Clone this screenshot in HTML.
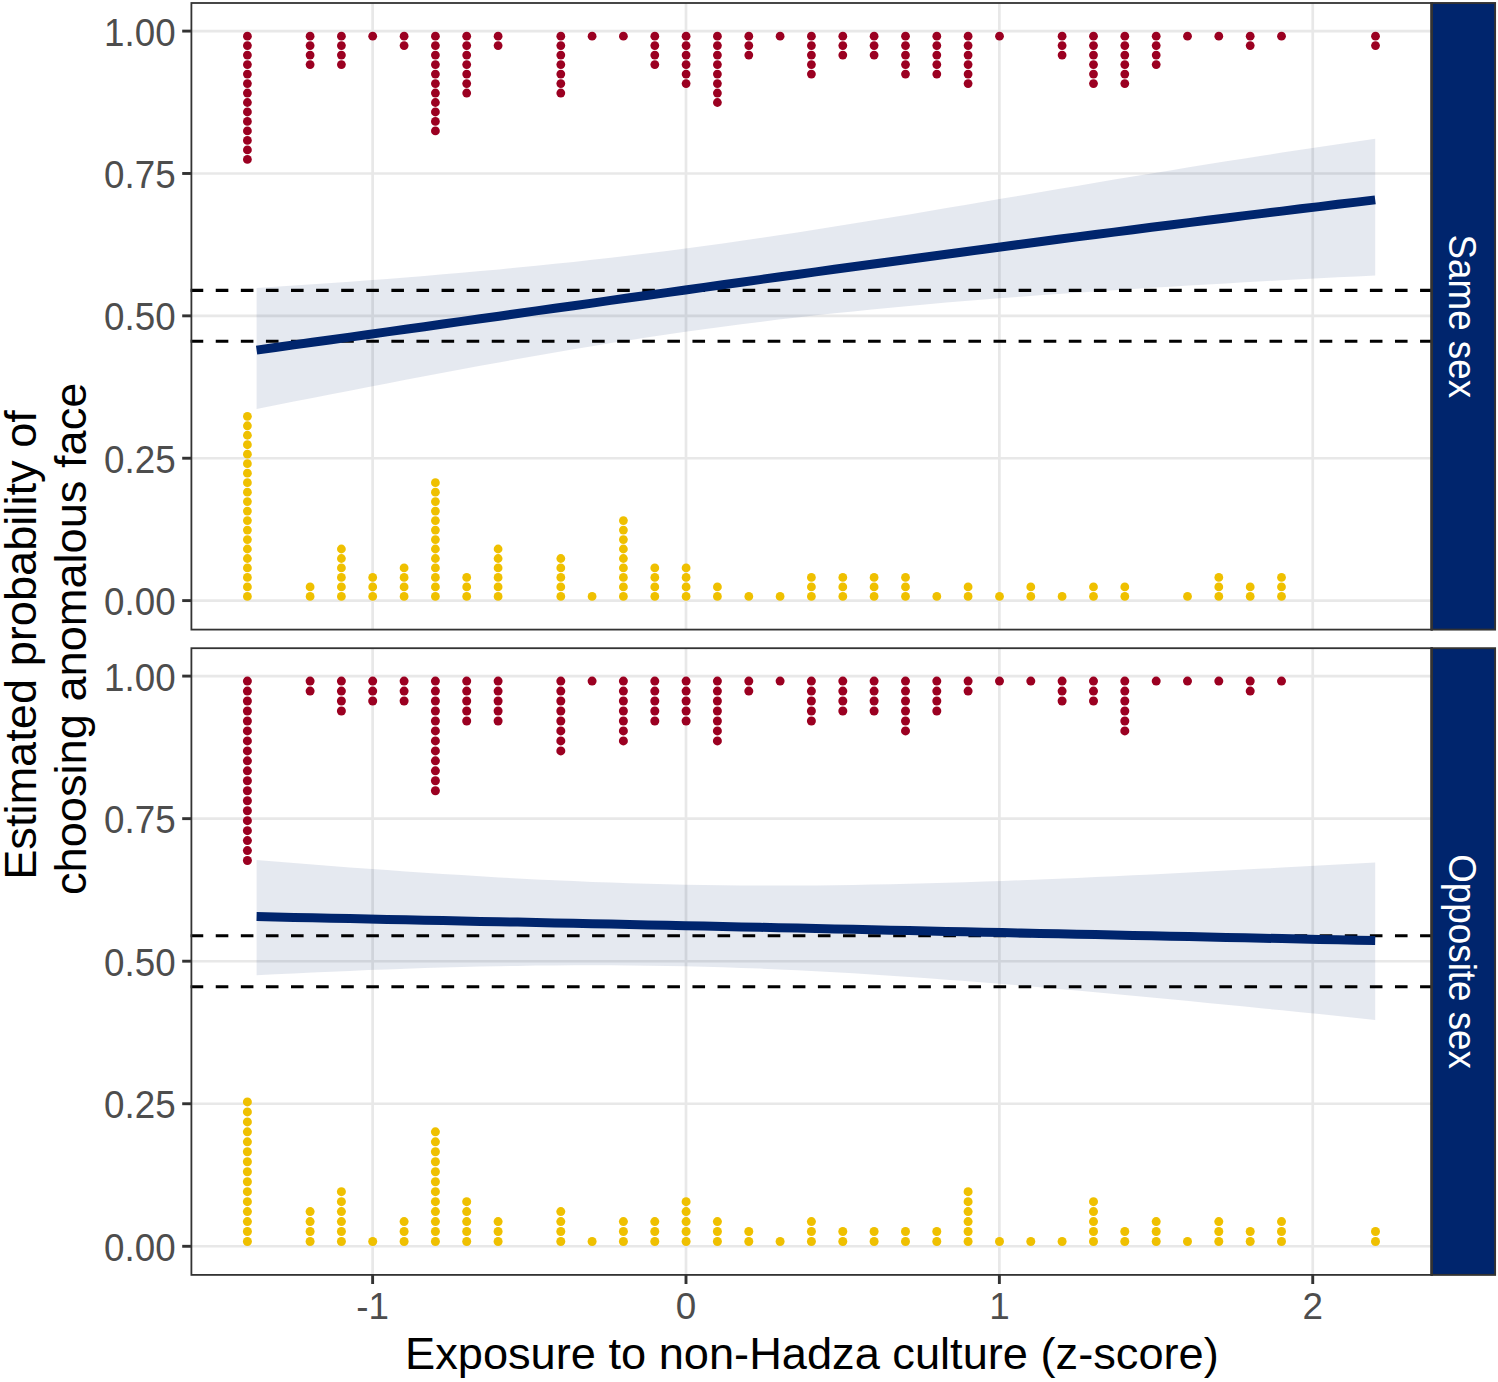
<!DOCTYPE html>
<html lang="en"><head><meta charset="utf-8"><title>Figure</title>
<style>html,body{margin:0;padding:0;background:#fff}body{width:1498px;height:1382px;overflow:hidden}</style></head>
<body>
<svg width="1498" height="1382" viewBox="0 0 1498 1382" style="display:block;font-family:'Liberation Sans',sans-serif">
<rect width="1498" height="1382" fill="#fff"/>
<g id="panel1">
<line x1="191.4" x2="1431.6" y1="600.60" y2="600.60" stroke="#E8E8E8" stroke-width="2.6"/>
<line x1="191.4" x2="1431.6" y1="458.23" y2="458.23" stroke="#E8E8E8" stroke-width="2.6"/>
<line x1="191.4" x2="1431.6" y1="315.85" y2="315.85" stroke="#E8E8E8" stroke-width="2.6"/>
<line x1="191.4" x2="1431.6" y1="173.48" y2="173.48" stroke="#E8E8E8" stroke-width="2.6"/>
<line x1="191.4" x2="1431.6" y1="31.10" y2="31.10" stroke="#E8E8E8" stroke-width="2.6"/>
<line x1="372.63" x2="372.63" y1="3.0" y2="629.6" stroke="#E8E8E8" stroke-width="2.7"/>
<line x1="686.00" x2="686.00" y1="3.0" y2="629.6" stroke="#E8E8E8" stroke-width="2.7"/>
<line x1="999.37" x2="999.37" y1="3.0" y2="629.6" stroke="#E8E8E8" stroke-width="2.7"/>
<line x1="1312.74" x2="1312.74" y1="3.0" y2="629.6" stroke="#E8E8E8" stroke-width="2.7"/>
<path d="M256.6,288.0 L275.2,286.8 L293.9,285.6 L312.5,284.3 L331.2,283.0 L349.8,281.7 L368.5,280.3 L387.1,278.9 L405.7,277.4 L424.4,275.9 L443.0,274.3 L461.7,272.7 L480.3,271.1 L499.0,269.4 L517.6,267.6 L536.2,265.7 L554.9,263.8 L573.5,261.9 L592.2,259.8 L610.8,257.7 L629.5,255.5 L648.1,253.2 L666.8,250.9 L685.4,248.4 L704.0,245.9 L722.7,243.4 L741.3,240.7 L760.0,238.0 L778.6,235.3 L797.3,232.4 L815.9,229.5 L834.5,226.6 L853.2,223.6 L871.8,220.6 L890.5,217.5 L909.1,214.4 L927.8,211.3 L946.4,208.1 L965.0,205.0 L983.7,201.8 L1002.3,198.6 L1021.0,195.4 L1039.6,192.3 L1058.3,189.1 L1076.9,185.9 L1095.5,182.8 L1114.2,179.6 L1132.8,176.5 L1151.5,173.4 L1170.1,170.4 L1188.8,167.3 L1207.4,164.3 L1226.1,161.3 L1244.7,158.4 L1263.3,155.5 L1282.0,152.6 L1300.6,149.8 L1319.3,147.0 L1337.9,144.2 L1356.6,141.5 L1375.2,138.8 L1375.2,275.4 L1356.6,276.4 L1337.9,277.3 L1319.3,278.3 L1300.6,279.3 L1282.0,280.3 L1263.3,281.3 L1244.7,282.3 L1226.1,283.4 L1207.4,284.5 L1188.8,285.6 L1170.1,286.7 L1151.5,287.8 L1132.8,289.0 L1114.2,290.2 L1095.5,291.4 L1076.9,292.7 L1058.3,294.0 L1039.6,295.3 L1021.0,296.7 L1002.3,298.1 L983.7,299.6 L965.0,301.1 L946.4,302.6 L927.8,304.3 L909.1,305.9 L890.5,307.7 L871.8,309.5 L853.2,311.4 L834.5,313.3 L815.9,315.3 L797.3,317.4 L778.6,319.6 L760.0,321.9 L741.3,324.2 L722.7,326.7 L704.0,329.2 L685.4,331.8 L666.8,334.5 L648.1,337.3 L629.5,340.2 L610.8,343.1 L592.2,346.2 L573.5,349.3 L554.9,352.5 L536.2,355.7 L517.6,359.0 L499.0,362.4 L480.3,365.8 L461.7,369.2 L443.0,372.7 L424.4,376.3 L405.7,379.8 L387.1,383.4 L368.5,387.0 L349.8,390.7 L331.2,394.3 L312.5,397.9 L293.9,401.6 L275.2,405.2 L256.6,408.9Z" fill="#00256D" fill-opacity="0.1"/>
<line x1="190.65" x2="1431.6" y1="341.31" y2="341.31" stroke="#000" stroke-width="3.05" stroke-dasharray="12.6 12.49"/>
<line x1="190.65" x2="1431.6" y1="290.39" y2="290.39" stroke="#000" stroke-width="3.05" stroke-dasharray="12.6 12.49"/>
<path d="M256.6,350.1 L275.2,347.5 L293.9,344.9 L312.5,342.3 L331.2,339.7 L349.8,337.1 L368.5,334.5 L387.1,331.9 L405.7,329.3 L424.4,326.7 L443.0,324.0 L461.7,321.4 L480.3,318.8 L499.0,316.2 L517.6,313.5 L536.2,310.9 L554.9,308.3 L573.5,305.7 L592.2,303.1 L610.8,300.4 L629.5,297.8 L648.1,295.2 L666.8,292.6 L685.4,290.0 L704.0,287.4 L722.7,284.8 L741.3,282.2 L760.0,279.6 L778.6,277.0 L797.3,274.5 L815.9,271.9 L834.5,269.3 L853.2,266.8 L871.8,264.2 L890.5,261.7 L909.1,259.2 L927.8,256.7 L946.4,254.2 L965.0,251.7 L983.7,249.2 L1002.3,246.7 L1021.0,244.2 L1039.6,241.8 L1058.3,239.3 L1076.9,236.9 L1095.5,234.5 L1114.2,232.1 L1132.8,229.7 L1151.5,227.3 L1170.1,225.0 L1188.8,222.6 L1207.4,220.3 L1226.1,218.0 L1244.7,215.6 L1263.3,213.4 L1282.0,211.1 L1300.6,208.8 L1319.3,206.6 L1337.9,204.3 L1356.6,202.1 L1375.2,199.9" fill="none" stroke="#00256D" stroke-width="9"/>
<g fill="#9B0021">
<circle cx="247.4" cy="36.14" r="4.4"/>
<circle cx="247.4" cy="45.62" r="4.4"/>
<circle cx="247.4" cy="55.10" r="4.4"/>
<circle cx="247.4" cy="64.58" r="4.4"/>
<circle cx="247.4" cy="74.06" r="4.4"/>
<circle cx="247.4" cy="83.54" r="4.4"/>
<circle cx="247.4" cy="93.02" r="4.4"/>
<circle cx="247.4" cy="102.50" r="4.4"/>
<circle cx="247.4" cy="111.98" r="4.4"/>
<circle cx="247.4" cy="121.46" r="4.4"/>
<circle cx="247.4" cy="130.94" r="4.4"/>
<circle cx="247.4" cy="140.42" r="4.4"/>
<circle cx="247.4" cy="149.90" r="4.4"/>
<circle cx="247.4" cy="159.38" r="4.4"/>
<circle cx="310.1" cy="36.14" r="4.4"/>
<circle cx="310.1" cy="45.62" r="4.4"/>
<circle cx="310.1" cy="55.10" r="4.4"/>
<circle cx="310.1" cy="64.58" r="4.4"/>
<circle cx="341.4" cy="36.14" r="4.4"/>
<circle cx="341.4" cy="45.62" r="4.4"/>
<circle cx="341.4" cy="55.10" r="4.4"/>
<circle cx="341.4" cy="64.58" r="4.4"/>
<circle cx="372.7" cy="36.14" r="4.4"/>
<circle cx="404.1" cy="36.14" r="4.4"/>
<circle cx="404.1" cy="45.62" r="4.4"/>
<circle cx="435.4" cy="36.14" r="4.4"/>
<circle cx="435.4" cy="45.62" r="4.4"/>
<circle cx="435.4" cy="55.10" r="4.4"/>
<circle cx="435.4" cy="64.58" r="4.4"/>
<circle cx="435.4" cy="74.06" r="4.4"/>
<circle cx="435.4" cy="83.54" r="4.4"/>
<circle cx="435.4" cy="93.02" r="4.4"/>
<circle cx="435.4" cy="102.50" r="4.4"/>
<circle cx="435.4" cy="111.98" r="4.4"/>
<circle cx="435.4" cy="121.46" r="4.4"/>
<circle cx="435.4" cy="130.94" r="4.4"/>
<circle cx="466.7" cy="36.14" r="4.4"/>
<circle cx="466.7" cy="45.62" r="4.4"/>
<circle cx="466.7" cy="55.10" r="4.4"/>
<circle cx="466.7" cy="64.58" r="4.4"/>
<circle cx="466.7" cy="74.06" r="4.4"/>
<circle cx="466.7" cy="83.54" r="4.4"/>
<circle cx="466.7" cy="93.02" r="4.4"/>
<circle cx="498.1" cy="36.14" r="4.4"/>
<circle cx="498.1" cy="45.62" r="4.4"/>
<circle cx="560.8" cy="36.14" r="4.4"/>
<circle cx="560.8" cy="45.62" r="4.4"/>
<circle cx="560.8" cy="55.10" r="4.4"/>
<circle cx="560.8" cy="64.58" r="4.4"/>
<circle cx="560.8" cy="74.06" r="4.4"/>
<circle cx="560.8" cy="83.54" r="4.4"/>
<circle cx="560.8" cy="93.02" r="4.4"/>
<circle cx="592.1" cy="36.14" r="4.4"/>
<circle cx="623.4" cy="36.14" r="4.4"/>
<circle cx="654.8" cy="36.14" r="4.4"/>
<circle cx="654.8" cy="45.62" r="4.4"/>
<circle cx="654.8" cy="55.10" r="4.4"/>
<circle cx="654.8" cy="64.58" r="4.4"/>
<circle cx="686.1" cy="36.14" r="4.4"/>
<circle cx="686.1" cy="45.62" r="4.4"/>
<circle cx="686.1" cy="55.10" r="4.4"/>
<circle cx="686.1" cy="64.58" r="4.4"/>
<circle cx="686.1" cy="74.06" r="4.4"/>
<circle cx="686.1" cy="83.54" r="4.4"/>
<circle cx="717.4" cy="36.14" r="4.4"/>
<circle cx="717.4" cy="45.62" r="4.4"/>
<circle cx="717.4" cy="55.10" r="4.4"/>
<circle cx="717.4" cy="64.58" r="4.4"/>
<circle cx="717.4" cy="74.06" r="4.4"/>
<circle cx="717.4" cy="83.54" r="4.4"/>
<circle cx="717.4" cy="93.02" r="4.4"/>
<circle cx="717.4" cy="102.50" r="4.4"/>
<circle cx="748.8" cy="36.14" r="4.4"/>
<circle cx="748.8" cy="45.62" r="4.4"/>
<circle cx="748.8" cy="55.10" r="4.4"/>
<circle cx="780.1" cy="36.14" r="4.4"/>
<circle cx="811.4" cy="36.14" r="4.4"/>
<circle cx="811.4" cy="45.62" r="4.4"/>
<circle cx="811.4" cy="55.10" r="4.4"/>
<circle cx="811.4" cy="64.58" r="4.4"/>
<circle cx="811.4" cy="74.06" r="4.4"/>
<circle cx="842.8" cy="36.14" r="4.4"/>
<circle cx="842.8" cy="45.62" r="4.4"/>
<circle cx="842.8" cy="55.10" r="4.4"/>
<circle cx="874.1" cy="36.14" r="4.4"/>
<circle cx="874.1" cy="45.62" r="4.4"/>
<circle cx="874.1" cy="55.10" r="4.4"/>
<circle cx="905.5" cy="36.14" r="4.4"/>
<circle cx="905.5" cy="45.62" r="4.4"/>
<circle cx="905.5" cy="55.10" r="4.4"/>
<circle cx="905.5" cy="64.58" r="4.4"/>
<circle cx="905.5" cy="74.06" r="4.4"/>
<circle cx="936.8" cy="36.14" r="4.4"/>
<circle cx="936.8" cy="45.62" r="4.4"/>
<circle cx="936.8" cy="55.10" r="4.4"/>
<circle cx="936.8" cy="64.58" r="4.4"/>
<circle cx="936.8" cy="74.06" r="4.4"/>
<circle cx="968.1" cy="36.14" r="4.4"/>
<circle cx="968.1" cy="45.62" r="4.4"/>
<circle cx="968.1" cy="55.10" r="4.4"/>
<circle cx="968.1" cy="64.58" r="4.4"/>
<circle cx="968.1" cy="74.06" r="4.4"/>
<circle cx="968.1" cy="83.54" r="4.4"/>
<circle cx="999.5" cy="36.14" r="4.4"/>
<circle cx="1062.1" cy="36.14" r="4.4"/>
<circle cx="1062.1" cy="45.62" r="4.4"/>
<circle cx="1062.1" cy="55.10" r="4.4"/>
<circle cx="1093.5" cy="36.14" r="4.4"/>
<circle cx="1093.5" cy="45.62" r="4.4"/>
<circle cx="1093.5" cy="55.10" r="4.4"/>
<circle cx="1093.5" cy="64.58" r="4.4"/>
<circle cx="1093.5" cy="74.06" r="4.4"/>
<circle cx="1093.5" cy="83.54" r="4.4"/>
<circle cx="1124.8" cy="36.14" r="4.4"/>
<circle cx="1124.8" cy="45.62" r="4.4"/>
<circle cx="1124.8" cy="55.10" r="4.4"/>
<circle cx="1124.8" cy="64.58" r="4.4"/>
<circle cx="1124.8" cy="74.06" r="4.4"/>
<circle cx="1124.8" cy="83.54" r="4.4"/>
<circle cx="1156.2" cy="36.14" r="4.4"/>
<circle cx="1156.2" cy="45.62" r="4.4"/>
<circle cx="1156.2" cy="55.10" r="4.4"/>
<circle cx="1156.2" cy="64.58" r="4.4"/>
<circle cx="1187.5" cy="36.14" r="4.4"/>
<circle cx="1218.8" cy="36.14" r="4.4"/>
<circle cx="1250.2" cy="36.14" r="4.4"/>
<circle cx="1250.2" cy="45.62" r="4.4"/>
<circle cx="1281.5" cy="36.14" r="4.4"/>
<circle cx="1375.5" cy="36.14" r="4.4"/>
<circle cx="1375.5" cy="45.62" r="4.4"/>
</g>
<g fill="#EFC000">
<circle cx="247.4" cy="596.41" r="4.4"/>
<circle cx="247.4" cy="586.93" r="4.4"/>
<circle cx="247.4" cy="577.45" r="4.4"/>
<circle cx="247.4" cy="567.97" r="4.4"/>
<circle cx="247.4" cy="558.49" r="4.4"/>
<circle cx="247.4" cy="549.01" r="4.4"/>
<circle cx="247.4" cy="539.53" r="4.4"/>
<circle cx="247.4" cy="530.05" r="4.4"/>
<circle cx="247.4" cy="520.57" r="4.4"/>
<circle cx="247.4" cy="511.09" r="4.4"/>
<circle cx="247.4" cy="501.61" r="4.4"/>
<circle cx="247.4" cy="492.13" r="4.4"/>
<circle cx="247.4" cy="482.65" r="4.4"/>
<circle cx="247.4" cy="473.17" r="4.4"/>
<circle cx="247.4" cy="463.69" r="4.4"/>
<circle cx="247.4" cy="454.21" r="4.4"/>
<circle cx="247.4" cy="444.73" r="4.4"/>
<circle cx="247.4" cy="435.25" r="4.4"/>
<circle cx="247.4" cy="425.77" r="4.4"/>
<circle cx="247.4" cy="416.29" r="4.4"/>
<circle cx="310.1" cy="596.41" r="4.4"/>
<circle cx="310.1" cy="586.93" r="4.4"/>
<circle cx="341.4" cy="596.41" r="4.4"/>
<circle cx="341.4" cy="586.93" r="4.4"/>
<circle cx="341.4" cy="577.45" r="4.4"/>
<circle cx="341.4" cy="567.97" r="4.4"/>
<circle cx="341.4" cy="558.49" r="4.4"/>
<circle cx="341.4" cy="549.01" r="4.4"/>
<circle cx="372.7" cy="596.41" r="4.4"/>
<circle cx="372.7" cy="586.93" r="4.4"/>
<circle cx="372.7" cy="577.45" r="4.4"/>
<circle cx="404.1" cy="596.41" r="4.4"/>
<circle cx="404.1" cy="586.93" r="4.4"/>
<circle cx="404.1" cy="577.45" r="4.4"/>
<circle cx="404.1" cy="567.97" r="4.4"/>
<circle cx="435.4" cy="596.41" r="4.4"/>
<circle cx="435.4" cy="586.93" r="4.4"/>
<circle cx="435.4" cy="577.45" r="4.4"/>
<circle cx="435.4" cy="567.97" r="4.4"/>
<circle cx="435.4" cy="558.49" r="4.4"/>
<circle cx="435.4" cy="549.01" r="4.4"/>
<circle cx="435.4" cy="539.53" r="4.4"/>
<circle cx="435.4" cy="530.05" r="4.4"/>
<circle cx="435.4" cy="520.57" r="4.4"/>
<circle cx="435.4" cy="511.09" r="4.4"/>
<circle cx="435.4" cy="501.61" r="4.4"/>
<circle cx="435.4" cy="492.13" r="4.4"/>
<circle cx="435.4" cy="482.65" r="4.4"/>
<circle cx="466.7" cy="596.41" r="4.4"/>
<circle cx="466.7" cy="586.93" r="4.4"/>
<circle cx="466.7" cy="577.45" r="4.4"/>
<circle cx="498.1" cy="596.41" r="4.4"/>
<circle cx="498.1" cy="586.93" r="4.4"/>
<circle cx="498.1" cy="577.45" r="4.4"/>
<circle cx="498.1" cy="567.97" r="4.4"/>
<circle cx="498.1" cy="558.49" r="4.4"/>
<circle cx="498.1" cy="549.01" r="4.4"/>
<circle cx="560.8" cy="596.41" r="4.4"/>
<circle cx="560.8" cy="586.93" r="4.4"/>
<circle cx="560.8" cy="577.45" r="4.4"/>
<circle cx="560.8" cy="567.97" r="4.4"/>
<circle cx="560.8" cy="558.49" r="4.4"/>
<circle cx="592.1" cy="596.41" r="4.4"/>
<circle cx="623.4" cy="596.41" r="4.4"/>
<circle cx="623.4" cy="586.93" r="4.4"/>
<circle cx="623.4" cy="577.45" r="4.4"/>
<circle cx="623.4" cy="567.97" r="4.4"/>
<circle cx="623.4" cy="558.49" r="4.4"/>
<circle cx="623.4" cy="549.01" r="4.4"/>
<circle cx="623.4" cy="539.53" r="4.4"/>
<circle cx="623.4" cy="530.05" r="4.4"/>
<circle cx="623.4" cy="520.57" r="4.4"/>
<circle cx="654.8" cy="596.41" r="4.4"/>
<circle cx="654.8" cy="586.93" r="4.4"/>
<circle cx="654.8" cy="577.45" r="4.4"/>
<circle cx="654.8" cy="567.97" r="4.4"/>
<circle cx="686.1" cy="596.41" r="4.4"/>
<circle cx="686.1" cy="586.93" r="4.4"/>
<circle cx="686.1" cy="577.45" r="4.4"/>
<circle cx="686.1" cy="567.97" r="4.4"/>
<circle cx="717.4" cy="596.41" r="4.4"/>
<circle cx="717.4" cy="586.93" r="4.4"/>
<circle cx="748.8" cy="596.41" r="4.4"/>
<circle cx="780.1" cy="596.41" r="4.4"/>
<circle cx="811.4" cy="596.41" r="4.4"/>
<circle cx="811.4" cy="586.93" r="4.4"/>
<circle cx="811.4" cy="577.45" r="4.4"/>
<circle cx="842.8" cy="596.41" r="4.4"/>
<circle cx="842.8" cy="586.93" r="4.4"/>
<circle cx="842.8" cy="577.45" r="4.4"/>
<circle cx="874.1" cy="596.41" r="4.4"/>
<circle cx="874.1" cy="586.93" r="4.4"/>
<circle cx="874.1" cy="577.45" r="4.4"/>
<circle cx="905.5" cy="596.41" r="4.4"/>
<circle cx="905.5" cy="586.93" r="4.4"/>
<circle cx="905.5" cy="577.45" r="4.4"/>
<circle cx="936.8" cy="596.41" r="4.4"/>
<circle cx="968.1" cy="596.41" r="4.4"/>
<circle cx="968.1" cy="586.93" r="4.4"/>
<circle cx="999.5" cy="596.41" r="4.4"/>
<circle cx="1030.8" cy="596.41" r="4.4"/>
<circle cx="1030.8" cy="586.93" r="4.4"/>
<circle cx="1062.1" cy="596.41" r="4.4"/>
<circle cx="1093.5" cy="596.41" r="4.4"/>
<circle cx="1093.5" cy="586.93" r="4.4"/>
<circle cx="1124.8" cy="596.41" r="4.4"/>
<circle cx="1124.8" cy="586.93" r="4.4"/>
<circle cx="1187.5" cy="596.41" r="4.4"/>
<circle cx="1218.8" cy="596.41" r="4.4"/>
<circle cx="1218.8" cy="586.93" r="4.4"/>
<circle cx="1218.8" cy="577.45" r="4.4"/>
<circle cx="1250.2" cy="596.41" r="4.4"/>
<circle cx="1250.2" cy="586.93" r="4.4"/>
<circle cx="1281.5" cy="596.41" r="4.4"/>
<circle cx="1281.5" cy="586.93" r="4.4"/>
<circle cx="1281.5" cy="577.45" r="4.4"/>
</g>
<rect x="1432.0" y="3.0" width="63.1" height="626.6" fill="#00256D" stroke="#333333" stroke-width="1.9"/>
<rect x="191.4" y="3.0" width="1240.2" height="626.6" fill="none" stroke="#333333" stroke-width="1.8"/>
<line x1="1431.6" x2="1431.6" y1="2.05" y2="630.5500000000001" stroke="#333333" stroke-width="2.7"/>
<text transform="translate(1449.0,316.3) rotate(90) scale(1,1.07)" text-anchor="middle" font-size="36.8" fill="#fff">Same sex</text>
<line x1="182.20000000000002" x2="191.4" y1="600.60" y2="600.60" stroke="#333333" stroke-width="2.9"/>
<text transform="translate(175.7,615.05) scale(1,1.035)" text-anchor="end" font-size="36.8" fill="#4D4D4D">0.00</text>
<line x1="182.20000000000002" x2="191.4" y1="458.23" y2="458.23" stroke="#333333" stroke-width="2.9"/>
<text transform="translate(175.7,472.68) scale(1,1.035)" text-anchor="end" font-size="36.8" fill="#4D4D4D">0.25</text>
<line x1="182.20000000000002" x2="191.4" y1="315.85" y2="315.85" stroke="#333333" stroke-width="2.9"/>
<text transform="translate(175.7,330.30) scale(1,1.035)" text-anchor="end" font-size="36.8" fill="#4D4D4D">0.50</text>
<line x1="182.20000000000002" x2="191.4" y1="173.48" y2="173.48" stroke="#333333" stroke-width="2.9"/>
<text transform="translate(175.7,187.93) scale(1,1.035)" text-anchor="end" font-size="36.8" fill="#4D4D4D">0.75</text>
<line x1="182.20000000000002" x2="191.4" y1="31.10" y2="31.10" stroke="#333333" stroke-width="2.9"/>
<text transform="translate(175.7,45.55) scale(1,1.035)" text-anchor="end" font-size="36.8" fill="#4D4D4D">1.00</text>
</g>
<g id="panel2">
<line x1="191.4" x2="1431.6" y1="1246.30" y2="1246.30" stroke="#E8E8E8" stroke-width="2.6"/>
<line x1="191.4" x2="1431.6" y1="1103.75" y2="1103.75" stroke="#E8E8E8" stroke-width="2.6"/>
<line x1="191.4" x2="1431.6" y1="961.20" y2="961.20" stroke="#E8E8E8" stroke-width="2.6"/>
<line x1="191.4" x2="1431.6" y1="818.65" y2="818.65" stroke="#E8E8E8" stroke-width="2.6"/>
<line x1="191.4" x2="1431.6" y1="676.10" y2="676.10" stroke="#E8E8E8" stroke-width="2.6"/>
<line x1="372.63" x2="372.63" y1="648.2" y2="1274.9" stroke="#E8E8E8" stroke-width="2.7"/>
<line x1="686.00" x2="686.00" y1="648.2" y2="1274.9" stroke="#E8E8E8" stroke-width="2.7"/>
<line x1="999.37" x2="999.37" y1="648.2" y2="1274.9" stroke="#E8E8E8" stroke-width="2.7"/>
<line x1="1312.74" x2="1312.74" y1="648.2" y2="1274.9" stroke="#E8E8E8" stroke-width="2.7"/>
<path d="M256.6,860.0 L275.2,861.5 L293.9,863.0 L312.5,864.5 L331.2,865.9 L349.8,867.4 L368.5,868.7 L387.1,870.1 L405.7,871.4 L424.4,872.7 L443.0,873.9 L461.7,875.1 L480.3,876.3 L499.0,877.4 L517.6,878.4 L536.2,879.4 L554.9,880.3 L573.5,881.1 L592.2,881.9 L610.8,882.6 L629.5,883.3 L648.1,883.8 L666.8,884.3 L685.4,884.7 L704.0,885.0 L722.7,885.3 L741.3,885.4 L760.0,885.5 L778.6,885.5 L797.3,885.5 L815.9,885.4 L834.5,885.2 L853.2,884.9 L871.8,884.6 L890.5,884.2 L909.1,883.8 L927.8,883.3 L946.4,882.7 L965.0,882.2 L983.7,881.5 L1002.3,880.9 L1021.0,880.2 L1039.6,879.4 L1058.3,878.7 L1076.9,877.9 L1095.5,877.0 L1114.2,876.2 L1132.8,875.3 L1151.5,874.4 L1170.1,873.5 L1188.8,872.5 L1207.4,871.6 L1226.1,870.6 L1244.7,869.6 L1263.3,868.6 L1282.0,867.6 L1300.6,866.6 L1319.3,865.5 L1337.9,864.5 L1356.6,863.4 L1375.2,862.4 L1375.2,1019.9 L1356.6,1018.0 L1337.9,1016.1 L1319.3,1014.1 L1300.6,1012.2 L1282.0,1010.3 L1263.3,1008.5 L1244.7,1006.6 L1226.1,1004.7 L1207.4,1002.9 L1188.8,1001.1 L1170.1,999.3 L1151.5,997.5 L1132.8,995.7 L1114.2,993.9 L1095.5,992.2 L1076.9,990.5 L1058.3,988.9 L1039.6,987.2 L1021.0,985.6 L1002.3,984.1 L983.7,982.6 L965.0,981.1 L946.4,979.7 L927.8,978.3 L909.1,977.0 L890.5,975.7 L871.8,974.5 L853.2,973.3 L834.5,972.2 L815.9,971.2 L797.3,970.3 L778.6,969.4 L760.0,968.6 L741.3,967.9 L722.7,967.3 L704.0,966.8 L685.4,966.3 L666.8,966.0 L648.1,965.7 L629.5,965.5 L610.8,965.3 L592.2,965.3 L573.5,965.3 L554.9,965.4 L536.2,965.6 L517.6,965.9 L499.0,966.2 L480.3,966.6 L461.7,967.1 L443.0,967.6 L424.4,968.1 L405.7,968.7 L387.1,969.4 L368.5,970.1 L349.8,970.9 L331.2,971.7 L312.5,972.5 L293.9,973.4 L275.2,974.3 L256.6,975.2Z" fill="#00256D" fill-opacity="0.1"/>
<line x1="190.65" x2="1431.6" y1="986.69" y2="986.69" stroke="#000" stroke-width="3.05" stroke-dasharray="12.6 12.49"/>
<line x1="190.65" x2="1431.6" y1="935.71" y2="935.71" stroke="#000" stroke-width="3.05" stroke-dasharray="12.6 12.49"/>
<path d="M256.6,916.6 L275.2,917.0 L293.9,917.4 L312.5,917.8 L331.2,918.2 L349.8,918.6 L368.5,919.0 L387.1,919.4 L405.7,919.8 L424.4,920.2 L443.0,920.6 L461.7,921.0 L480.3,921.4 L499.0,921.7 L517.6,922.1 L536.2,922.5 L554.9,922.9 L573.5,923.3 L592.2,923.7 L610.8,924.1 L629.5,924.5 L648.1,924.9 L666.8,925.3 L685.4,925.7 L704.0,926.1 L722.7,926.5 L741.3,926.9 L760.0,927.3 L778.6,927.7 L797.3,928.1 L815.9,928.5 L834.5,928.9 L853.2,929.3 L871.8,929.8 L890.5,930.2 L909.1,930.6 L927.8,931.0 L946.4,931.4 L965.0,931.8 L983.7,932.2 L1002.3,932.6 L1021.0,933.0 L1039.6,933.4 L1058.3,933.8 L1076.9,934.2 L1095.5,934.6 L1114.2,935.0 L1132.8,935.4 L1151.5,935.8 L1170.1,936.2 L1188.8,936.6 L1207.4,937.0 L1226.1,937.4 L1244.7,937.8 L1263.3,938.2 L1282.0,938.6 L1300.6,939.0 L1319.3,939.4 L1337.9,939.8 L1356.6,940.2 L1375.2,940.6" fill="none" stroke="#00256D" stroke-width="9"/>
<g fill="#9B0021">
<circle cx="247.4" cy="681.09" r="4.5"/>
<circle cx="247.4" cy="691.06" r="4.5"/>
<circle cx="247.4" cy="701.03" r="4.5"/>
<circle cx="247.4" cy="711.00" r="4.5"/>
<circle cx="247.4" cy="720.97" r="4.5"/>
<circle cx="247.4" cy="730.94" r="4.5"/>
<circle cx="247.4" cy="740.91" r="4.5"/>
<circle cx="247.4" cy="750.88" r="4.5"/>
<circle cx="247.4" cy="760.85" r="4.5"/>
<circle cx="247.4" cy="770.82" r="4.5"/>
<circle cx="247.4" cy="780.79" r="4.5"/>
<circle cx="247.4" cy="790.75" r="4.5"/>
<circle cx="247.4" cy="800.73" r="4.5"/>
<circle cx="247.4" cy="810.70" r="4.5"/>
<circle cx="247.4" cy="820.67" r="4.5"/>
<circle cx="247.4" cy="830.63" r="4.5"/>
<circle cx="247.4" cy="840.61" r="4.5"/>
<circle cx="247.4" cy="850.58" r="4.5"/>
<circle cx="247.4" cy="860.55" r="4.5"/>
<circle cx="310.1" cy="681.09" r="4.5"/>
<circle cx="310.1" cy="691.06" r="4.5"/>
<circle cx="341.4" cy="681.09" r="4.5"/>
<circle cx="341.4" cy="691.06" r="4.5"/>
<circle cx="341.4" cy="701.03" r="4.5"/>
<circle cx="341.4" cy="711.00" r="4.5"/>
<circle cx="372.7" cy="681.09" r="4.5"/>
<circle cx="372.7" cy="691.06" r="4.5"/>
<circle cx="372.7" cy="701.03" r="4.5"/>
<circle cx="404.1" cy="681.09" r="4.5"/>
<circle cx="404.1" cy="691.06" r="4.5"/>
<circle cx="404.1" cy="701.03" r="4.5"/>
<circle cx="435.4" cy="681.09" r="4.5"/>
<circle cx="435.4" cy="691.06" r="4.5"/>
<circle cx="435.4" cy="701.03" r="4.5"/>
<circle cx="435.4" cy="711.00" r="4.5"/>
<circle cx="435.4" cy="720.97" r="4.5"/>
<circle cx="435.4" cy="730.94" r="4.5"/>
<circle cx="435.4" cy="740.91" r="4.5"/>
<circle cx="435.4" cy="750.88" r="4.5"/>
<circle cx="435.4" cy="760.85" r="4.5"/>
<circle cx="435.4" cy="770.82" r="4.5"/>
<circle cx="435.4" cy="780.79" r="4.5"/>
<circle cx="435.4" cy="790.75" r="4.5"/>
<circle cx="466.7" cy="681.09" r="4.5"/>
<circle cx="466.7" cy="691.06" r="4.5"/>
<circle cx="466.7" cy="701.03" r="4.5"/>
<circle cx="466.7" cy="711.00" r="4.5"/>
<circle cx="466.7" cy="720.97" r="4.5"/>
<circle cx="498.1" cy="681.09" r="4.5"/>
<circle cx="498.1" cy="691.06" r="4.5"/>
<circle cx="498.1" cy="701.03" r="4.5"/>
<circle cx="498.1" cy="711.00" r="4.5"/>
<circle cx="498.1" cy="720.97" r="4.5"/>
<circle cx="560.8" cy="681.09" r="4.5"/>
<circle cx="560.8" cy="691.06" r="4.5"/>
<circle cx="560.8" cy="701.03" r="4.5"/>
<circle cx="560.8" cy="711.00" r="4.5"/>
<circle cx="560.8" cy="720.97" r="4.5"/>
<circle cx="560.8" cy="730.94" r="4.5"/>
<circle cx="560.8" cy="740.91" r="4.5"/>
<circle cx="560.8" cy="750.88" r="4.5"/>
<circle cx="592.1" cy="681.09" r="4.5"/>
<circle cx="623.4" cy="681.09" r="4.5"/>
<circle cx="623.4" cy="691.06" r="4.5"/>
<circle cx="623.4" cy="701.03" r="4.5"/>
<circle cx="623.4" cy="711.00" r="4.5"/>
<circle cx="623.4" cy="720.97" r="4.5"/>
<circle cx="623.4" cy="730.94" r="4.5"/>
<circle cx="623.4" cy="740.91" r="4.5"/>
<circle cx="654.8" cy="681.09" r="4.5"/>
<circle cx="654.8" cy="691.06" r="4.5"/>
<circle cx="654.8" cy="701.03" r="4.5"/>
<circle cx="654.8" cy="711.00" r="4.5"/>
<circle cx="654.8" cy="720.97" r="4.5"/>
<circle cx="686.1" cy="681.09" r="4.5"/>
<circle cx="686.1" cy="691.06" r="4.5"/>
<circle cx="686.1" cy="701.03" r="4.5"/>
<circle cx="686.1" cy="711.00" r="4.5"/>
<circle cx="686.1" cy="720.97" r="4.5"/>
<circle cx="717.4" cy="681.09" r="4.5"/>
<circle cx="717.4" cy="691.06" r="4.5"/>
<circle cx="717.4" cy="701.03" r="4.5"/>
<circle cx="717.4" cy="711.00" r="4.5"/>
<circle cx="717.4" cy="720.97" r="4.5"/>
<circle cx="717.4" cy="730.94" r="4.5"/>
<circle cx="717.4" cy="740.91" r="4.5"/>
<circle cx="748.8" cy="681.09" r="4.5"/>
<circle cx="748.8" cy="691.06" r="4.5"/>
<circle cx="780.1" cy="681.09" r="4.5"/>
<circle cx="811.4" cy="681.09" r="4.5"/>
<circle cx="811.4" cy="691.06" r="4.5"/>
<circle cx="811.4" cy="701.03" r="4.5"/>
<circle cx="811.4" cy="711.00" r="4.5"/>
<circle cx="811.4" cy="720.97" r="4.5"/>
<circle cx="842.8" cy="681.09" r="4.5"/>
<circle cx="842.8" cy="691.06" r="4.5"/>
<circle cx="842.8" cy="701.03" r="4.5"/>
<circle cx="842.8" cy="711.00" r="4.5"/>
<circle cx="874.1" cy="681.09" r="4.5"/>
<circle cx="874.1" cy="691.06" r="4.5"/>
<circle cx="874.1" cy="701.03" r="4.5"/>
<circle cx="874.1" cy="711.00" r="4.5"/>
<circle cx="905.5" cy="681.09" r="4.5"/>
<circle cx="905.5" cy="691.06" r="4.5"/>
<circle cx="905.5" cy="701.03" r="4.5"/>
<circle cx="905.5" cy="711.00" r="4.5"/>
<circle cx="905.5" cy="720.97" r="4.5"/>
<circle cx="905.5" cy="730.94" r="4.5"/>
<circle cx="936.8" cy="681.09" r="4.5"/>
<circle cx="936.8" cy="691.06" r="4.5"/>
<circle cx="936.8" cy="701.03" r="4.5"/>
<circle cx="936.8" cy="711.00" r="4.5"/>
<circle cx="968.1" cy="681.09" r="4.5"/>
<circle cx="968.1" cy="691.06" r="4.5"/>
<circle cx="999.5" cy="681.09" r="4.5"/>
<circle cx="1030.8" cy="681.09" r="4.5"/>
<circle cx="1062.1" cy="681.09" r="4.5"/>
<circle cx="1062.1" cy="691.06" r="4.5"/>
<circle cx="1062.1" cy="701.03" r="4.5"/>
<circle cx="1093.5" cy="681.09" r="4.5"/>
<circle cx="1093.5" cy="691.06" r="4.5"/>
<circle cx="1093.5" cy="701.03" r="4.5"/>
<circle cx="1124.8" cy="681.09" r="4.5"/>
<circle cx="1124.8" cy="691.06" r="4.5"/>
<circle cx="1124.8" cy="701.03" r="4.5"/>
<circle cx="1124.8" cy="711.00" r="4.5"/>
<circle cx="1124.8" cy="720.97" r="4.5"/>
<circle cx="1124.8" cy="730.94" r="4.5"/>
<circle cx="1156.2" cy="681.09" r="4.5"/>
<circle cx="1187.5" cy="681.09" r="4.5"/>
<circle cx="1218.8" cy="681.09" r="4.5"/>
<circle cx="1250.2" cy="681.09" r="4.5"/>
<circle cx="1250.2" cy="691.06" r="4.5"/>
<circle cx="1281.5" cy="681.09" r="4.5"/>
</g>
<g fill="#EFC000">
<circle cx="247.4" cy="1241.52" r="4.5"/>
<circle cx="247.4" cy="1231.55" r="4.5"/>
<circle cx="247.4" cy="1221.58" r="4.5"/>
<circle cx="247.4" cy="1211.61" r="4.5"/>
<circle cx="247.4" cy="1201.63" r="4.5"/>
<circle cx="247.4" cy="1191.67" r="4.5"/>
<circle cx="247.4" cy="1181.70" r="4.5"/>
<circle cx="247.4" cy="1171.73" r="4.5"/>
<circle cx="247.4" cy="1161.76" r="4.5"/>
<circle cx="247.4" cy="1151.79" r="4.5"/>
<circle cx="247.4" cy="1141.82" r="4.5"/>
<circle cx="247.4" cy="1131.85" r="4.5"/>
<circle cx="247.4" cy="1121.88" r="4.5"/>
<circle cx="247.4" cy="1111.91" r="4.5"/>
<circle cx="247.4" cy="1101.94" r="4.5"/>
<circle cx="310.1" cy="1241.52" r="4.5"/>
<circle cx="310.1" cy="1231.55" r="4.5"/>
<circle cx="310.1" cy="1221.58" r="4.5"/>
<circle cx="310.1" cy="1211.61" r="4.5"/>
<circle cx="341.4" cy="1241.52" r="4.5"/>
<circle cx="341.4" cy="1231.55" r="4.5"/>
<circle cx="341.4" cy="1221.58" r="4.5"/>
<circle cx="341.4" cy="1211.61" r="4.5"/>
<circle cx="341.4" cy="1201.63" r="4.5"/>
<circle cx="341.4" cy="1191.67" r="4.5"/>
<circle cx="372.7" cy="1241.52" r="4.5"/>
<circle cx="404.1" cy="1241.52" r="4.5"/>
<circle cx="404.1" cy="1231.55" r="4.5"/>
<circle cx="404.1" cy="1221.58" r="4.5"/>
<circle cx="435.4" cy="1241.52" r="4.5"/>
<circle cx="435.4" cy="1231.55" r="4.5"/>
<circle cx="435.4" cy="1221.58" r="4.5"/>
<circle cx="435.4" cy="1211.61" r="4.5"/>
<circle cx="435.4" cy="1201.63" r="4.5"/>
<circle cx="435.4" cy="1191.67" r="4.5"/>
<circle cx="435.4" cy="1181.70" r="4.5"/>
<circle cx="435.4" cy="1171.73" r="4.5"/>
<circle cx="435.4" cy="1161.76" r="4.5"/>
<circle cx="435.4" cy="1151.79" r="4.5"/>
<circle cx="435.4" cy="1141.82" r="4.5"/>
<circle cx="435.4" cy="1131.85" r="4.5"/>
<circle cx="466.7" cy="1241.52" r="4.5"/>
<circle cx="466.7" cy="1231.55" r="4.5"/>
<circle cx="466.7" cy="1221.58" r="4.5"/>
<circle cx="466.7" cy="1211.61" r="4.5"/>
<circle cx="466.7" cy="1201.63" r="4.5"/>
<circle cx="498.1" cy="1241.52" r="4.5"/>
<circle cx="498.1" cy="1231.55" r="4.5"/>
<circle cx="498.1" cy="1221.58" r="4.5"/>
<circle cx="560.8" cy="1241.52" r="4.5"/>
<circle cx="560.8" cy="1231.55" r="4.5"/>
<circle cx="560.8" cy="1221.58" r="4.5"/>
<circle cx="560.8" cy="1211.61" r="4.5"/>
<circle cx="592.1" cy="1241.52" r="4.5"/>
<circle cx="623.4" cy="1241.52" r="4.5"/>
<circle cx="623.4" cy="1231.55" r="4.5"/>
<circle cx="623.4" cy="1221.58" r="4.5"/>
<circle cx="654.8" cy="1241.52" r="4.5"/>
<circle cx="654.8" cy="1231.55" r="4.5"/>
<circle cx="654.8" cy="1221.58" r="4.5"/>
<circle cx="686.1" cy="1241.52" r="4.5"/>
<circle cx="686.1" cy="1231.55" r="4.5"/>
<circle cx="686.1" cy="1221.58" r="4.5"/>
<circle cx="686.1" cy="1211.61" r="4.5"/>
<circle cx="686.1" cy="1201.63" r="4.5"/>
<circle cx="717.4" cy="1241.52" r="4.5"/>
<circle cx="717.4" cy="1231.55" r="4.5"/>
<circle cx="717.4" cy="1221.58" r="4.5"/>
<circle cx="748.8" cy="1241.52" r="4.5"/>
<circle cx="748.8" cy="1231.55" r="4.5"/>
<circle cx="780.1" cy="1241.52" r="4.5"/>
<circle cx="811.4" cy="1241.52" r="4.5"/>
<circle cx="811.4" cy="1231.55" r="4.5"/>
<circle cx="811.4" cy="1221.58" r="4.5"/>
<circle cx="842.8" cy="1241.52" r="4.5"/>
<circle cx="842.8" cy="1231.55" r="4.5"/>
<circle cx="874.1" cy="1241.52" r="4.5"/>
<circle cx="874.1" cy="1231.55" r="4.5"/>
<circle cx="905.5" cy="1241.52" r="4.5"/>
<circle cx="905.5" cy="1231.55" r="4.5"/>
<circle cx="936.8" cy="1241.52" r="4.5"/>
<circle cx="936.8" cy="1231.55" r="4.5"/>
<circle cx="968.1" cy="1241.52" r="4.5"/>
<circle cx="968.1" cy="1231.55" r="4.5"/>
<circle cx="968.1" cy="1221.58" r="4.5"/>
<circle cx="968.1" cy="1211.61" r="4.5"/>
<circle cx="968.1" cy="1201.63" r="4.5"/>
<circle cx="968.1" cy="1191.67" r="4.5"/>
<circle cx="999.5" cy="1241.52" r="4.5"/>
<circle cx="1030.8" cy="1241.52" r="4.5"/>
<circle cx="1062.1" cy="1241.52" r="4.5"/>
<circle cx="1093.5" cy="1241.52" r="4.5"/>
<circle cx="1093.5" cy="1231.55" r="4.5"/>
<circle cx="1093.5" cy="1221.58" r="4.5"/>
<circle cx="1093.5" cy="1211.61" r="4.5"/>
<circle cx="1093.5" cy="1201.63" r="4.5"/>
<circle cx="1124.8" cy="1241.52" r="4.5"/>
<circle cx="1124.8" cy="1231.55" r="4.5"/>
<circle cx="1156.2" cy="1241.52" r="4.5"/>
<circle cx="1156.2" cy="1231.55" r="4.5"/>
<circle cx="1156.2" cy="1221.58" r="4.5"/>
<circle cx="1187.5" cy="1241.52" r="4.5"/>
<circle cx="1218.8" cy="1241.52" r="4.5"/>
<circle cx="1218.8" cy="1231.55" r="4.5"/>
<circle cx="1218.8" cy="1221.58" r="4.5"/>
<circle cx="1250.2" cy="1241.52" r="4.5"/>
<circle cx="1250.2" cy="1231.55" r="4.5"/>
<circle cx="1281.5" cy="1241.52" r="4.5"/>
<circle cx="1281.5" cy="1231.55" r="4.5"/>
<circle cx="1281.5" cy="1221.58" r="4.5"/>
<circle cx="1375.5" cy="1241.52" r="4.5"/>
<circle cx="1375.5" cy="1231.55" r="4.5"/>
</g>
<rect x="1432.0" y="648.2" width="63.1" height="626.7" fill="#00256D" stroke="#333333" stroke-width="1.9"/>
<rect x="191.4" y="648.2" width="1240.2" height="626.7" fill="none" stroke="#333333" stroke-width="1.8"/>
<line x1="1431.6" x2="1431.6" y1="647.25" y2="1275.8500000000001" stroke="#333333" stroke-width="2.7"/>
<text transform="translate(1449.0,961.6) rotate(90) scale(1,1.07)" text-anchor="middle" font-size="36.8" fill="#fff">Opposite sex</text>
<line x1="182.20000000000002" x2="191.4" y1="1246.30" y2="1246.30" stroke="#333333" stroke-width="2.9"/>
<text transform="translate(175.7,1260.75) scale(1,1.035)" text-anchor="end" font-size="36.8" fill="#4D4D4D">0.00</text>
<line x1="182.20000000000002" x2="191.4" y1="1103.75" y2="1103.75" stroke="#333333" stroke-width="2.9"/>
<text transform="translate(175.7,1118.20) scale(1,1.035)" text-anchor="end" font-size="36.8" fill="#4D4D4D">0.25</text>
<line x1="182.20000000000002" x2="191.4" y1="961.20" y2="961.20" stroke="#333333" stroke-width="2.9"/>
<text transform="translate(175.7,975.65) scale(1,1.035)" text-anchor="end" font-size="36.8" fill="#4D4D4D">0.50</text>
<line x1="182.20000000000002" x2="191.4" y1="818.65" y2="818.65" stroke="#333333" stroke-width="2.9"/>
<text transform="translate(175.7,833.10) scale(1,1.035)" text-anchor="end" font-size="36.8" fill="#4D4D4D">0.75</text>
<line x1="182.20000000000002" x2="191.4" y1="676.10" y2="676.10" stroke="#333333" stroke-width="2.9"/>
<text transform="translate(175.7,690.55) scale(1,1.035)" text-anchor="end" font-size="36.8" fill="#4D4D4D">1.00</text>
</g>
<line x1="372.63" x2="372.63" y1="1274.9" y2="1284.0" stroke="#333333" stroke-width="2.9"/>
<text transform="translate(372.63,1319.1) scale(1,1.02)" text-anchor="middle" font-size="36.8" fill="#4D4D4D">-1</text>
<line x1="686.00" x2="686.00" y1="1274.9" y2="1284.0" stroke="#333333" stroke-width="2.9"/>
<text transform="translate(686.00,1319.1) scale(1,1.02)" text-anchor="middle" font-size="36.8" fill="#4D4D4D">0</text>
<line x1="999.37" x2="999.37" y1="1274.9" y2="1284.0" stroke="#333333" stroke-width="2.9"/>
<text transform="translate(999.37,1319.1) scale(1,1.02)" text-anchor="middle" font-size="36.8" fill="#4D4D4D">1</text>
<line x1="1312.74" x2="1312.74" y1="1274.9" y2="1284.0" stroke="#333333" stroke-width="2.9"/>
<text transform="translate(1312.74,1319.1) scale(1,1.02)" text-anchor="middle" font-size="36.8" fill="#4D4D4D">2</text>
<text x="811.9" y="1368.5" text-anchor="middle" font-size="45.2" fill="#000">Exposure to non-Hadza culture (z-score)</text>
<text transform="translate(35.9,645.0) rotate(-90)" text-anchor="middle" font-size="45.2" fill="#000">Estimated probability of</text>
<text transform="translate(85.8,638.8) rotate(-90)" text-anchor="middle" font-size="45.2" fill="#000">choosing anomalous face</text>
</svg>
</body></html>
